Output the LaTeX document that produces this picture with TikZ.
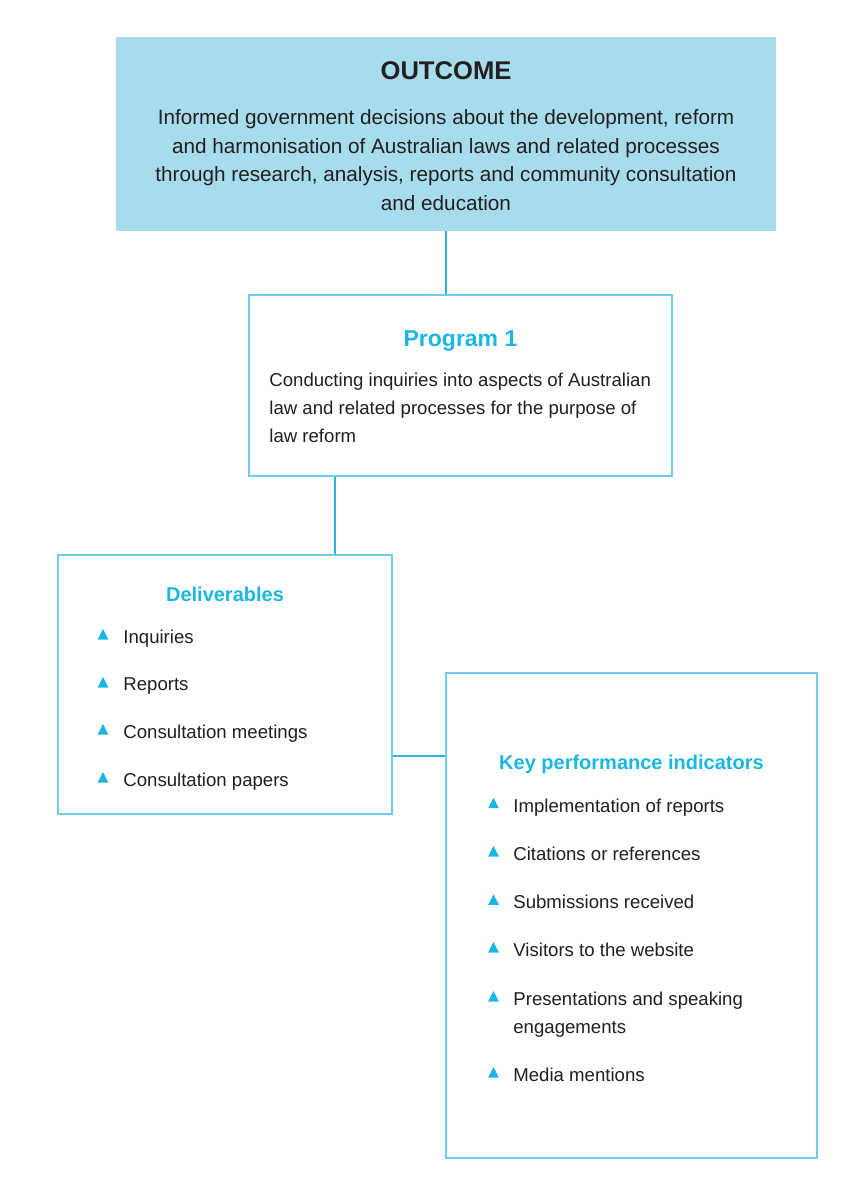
\documentclass[tikz,border=0pt]{standalone}
\usepackage{fontspec}
\setmainfont{Liberation Sans}
\usetikzlibrary{positioning}

\definecolor{cyanline}{RGB}{110,205,235}
\definecolor{cyanlink}{RGB}{45,180,222}
\definecolor{cyanhead}{RGB}{27,183,224}
\definecolor{outfill}{RGB}{166,220,236}
\definecolor{bodytext}{RGB}{35,31,32}

\tikzset{
  box/.style={draw=cyanline, line width=0.6pt, inner sep=0pt, fill=white},
  link/.style={draw=cyanlink, line width=1pt},
  head/.style={text=cyanhead, font=\fontsize{10}{12}\selectfont\bfseries, inner sep=0pt, anchor=base},
  item/.style={text=bodytext, font=\fontsize{9.3}{13.9}\selectfont, inner sep=0pt, anchor=north west, align=left},
}

\begin{document}
\begin{tikzpicture}[x=0.5pt,y=-0.5pt]
\useasboundingbox[fill=white] (0,0) rectangle (845,1200);

% Outcome
\node[box, draw=outfill, fill=outfill, minimum width=329pt, minimum height=96pt] (outcome) at (446,134) {};
\node[font=\fontsize{12.8}{15}\selectfont\bfseries, text=bodytext, inner sep=0pt] (outtitle) at (446,71) {OUTCOME};
\node[font=\fontsize{10.35}{14.35}\selectfont, text=bodytext, align=center, inner sep=0pt, anchor=north] (outtext) at (446,109)
  {Informed government decisions about the development, reform\\and harmonisation of Australian laws and related processes\\through research, analysis, reports and community consultation\\and education};

% Program 1
\node[box, minimum width=211.5pt, minimum height=90.5pt] (program) at (460.5,385.5) {};
\node[head, font=\fontsize{11.5}{14}\selectfont\bfseries] (progtitle) at (460.5,346) {Program 1};
\node[item, font=\fontsize{9.3}{14}\selectfont] (progtext) at (269,373)
  {Conducting inquiries into aspects of Australian\\law and related processes for the purpose of\\law reform};

% Deliverables
\node[box, minimum width=167pt, minimum height=129.5pt] (deliv) at (225,684.5) {};
\node[head] (delivtitle) at (225,601) {Deliverables};
\foreach \by/\txt [count=\i] in {643/Inquiries, 691/Reports, 738/Consultation meetings, 786/Consultation papers}{
  \fill[cyanhead] (97.7,\by-3.5) -- (108.3,\by-3.5) -- (103,\by-14) -- cycle;
  \node[item] (deliv\i) at (123,\by-13.5) {\txt};
}

% Key performance indicators
\node[box, minimum width=185.5pt, minimum height=242.5pt] (kpi) at (631.5,915.5) {};
\node[head] (kpititle) at (631.5,769.3) {Key performance indicators};
\foreach \by/\txt [count=\i] in {811.7/Implementation of reports, 860/Citations or references, 908.3/Submissions received,
    956/Visitors to the website, 1005/{Presentations and speaking\\engagements}, 1081/Media mentions}{
  \fill[cyanhead] (488.2,\by-3.5) -- (498.8,\by-3.5) -- (493.5,\by-14) -- cycle;
  \node[item] (kpi\i) at (513,\by-13.5) {\txt};
}

% Connectors
\draw[link] (outcome.south) -- (outcome.south |- program.north);
\coordinate (progfoot) at (335,0 |- program.south);
\draw[link] (progfoot) -- (progfoot |- deliv.north);
\coordinate (delivside) at (deliv.east |- 0,756);
\draw[link] (delivside) -- (delivside -| kpi.west);
\end{tikzpicture}
\end{document}
